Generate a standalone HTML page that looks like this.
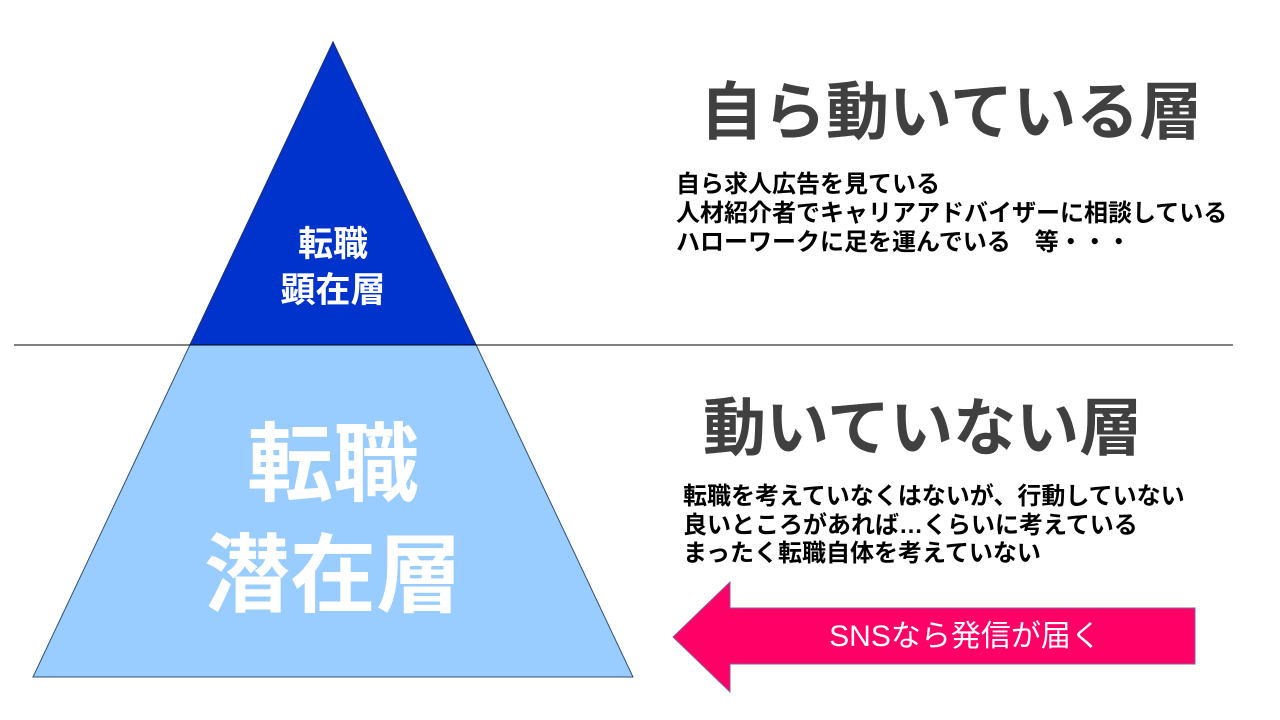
<!DOCTYPE html>
<html><head><meta charset="utf-8"><style>
body{margin:0;width:1280px;height:720px;background:#fff;position:relative;overflow:hidden;font-family:"Liberation Sans","Noto Sans CJK JP",sans-serif;}
.t{position:absolute;white-space:nowrap;font-weight:bold;}
</style></head><body>
<svg width="1280" height="720" style="position:absolute;left:0;top:0">
<polygon points="333,42 633,677 33,677" fill="#99CCFF" stroke="#2F4F6F" stroke-width="1"/>
<polygon points="333,42 476,345 190,345" fill="#0033CC" stroke="#1F2F7F" stroke-width="1"/>
<line x1="14" y1="345" x2="1233" y2="345" stroke="#000" stroke-width="1"/>
<polygon points="673,637 730,582 730,608 1195,608 1195,664 730,664 730,692" fill="#FF0066" stroke="#7F5FA0" stroke-width="1"/>
</svg>
<div class="t" style="left:233px;top:222px;width:200px;text-align:center;color:#fff;font-size:35px;line-height:46px">転職<br>顕在層</div>
<div class="t" style="left:133px;top:410px;width:400px;text-align:center;color:#fff;font-size:86px;line-height:111px">転職<br>潜在層</div>
<div class="t" style="left:700px;top:80px;color:#404040;font-size:63px;line-height:66px">自ら動いている層</div>
<div class="t" style="left:676px;top:170px;color:#000;font-size:24px;line-height:29px">自ら求人広告を見ている<br>人材紹介者でキャリアアドバイザーに相談している<br>ハローワークに足を運んでいる　等・・・</div>
<div class="t" style="left:703px;top:396px;color:#404040;font-size:63px;line-height:66px">動いていない層</div>
<div class="t" style="left:683px;top:483px;color:#000;font-size:24px;line-height:28.5px">転職を考えていなくはないが、行動していない<br>良いところがあれば…くらいに考えている<br>まったく転職自体を考えていない</div>
<div class="t" style="left:800px;top:618px;width:330px;text-align:center;color:#fff;font-size:30px;line-height:38px;font-weight:normal">SNSなら発信が届く</div>
</body></html>
